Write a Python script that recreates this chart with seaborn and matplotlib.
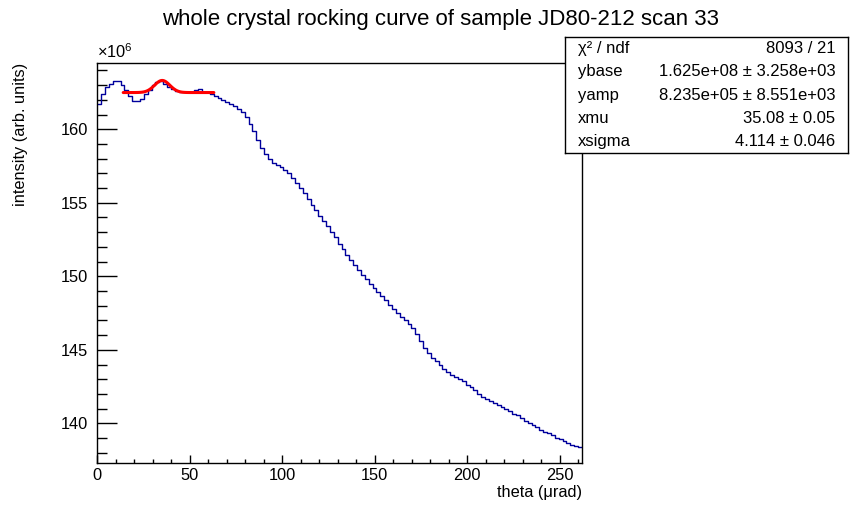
import numpy as np
import pandas as pd
import seaborn as sns
import matplotlib.pyplot as plt
from matplotlib.ticker import MultipleLocator

# histogram binning (theta in urad) and bin contents in units of 1e6
theta_lo = 0.0
theta_hi = 262.0
n_bins = 125
intensity = [
    161.72, 162.40, 162.85, 163.08, 163.26, 163.26, 163.01, 162.67, 162.26, 161.94,
    161.90, 162.06, 162.40, 162.67, 163.01, 163.19, 163.30, 163.08, 162.90, 162.72,
    162.60, 162.55, 162.55, 162.55, 162.57, 162.67, 162.72, 162.55, 162.51, 162.40,
    162.25, 162.10, 161.98, 161.88, 161.75, 161.58, 161.38, 161.15, 160.81, 160.35,
    159.86, 159.26, 158.70, 158.30, 157.97, 157.74, 157.55, 157.41, 157.21, 157.00,
    156.66, 156.32, 156.04, 155.64, 155.24, 154.83, 154.50, 154.12, 153.75, 153.41,
    153.02, 152.68, 152.17, 151.84, 151.46, 151.11, 150.77, 150.42, 150.09, 149.79,
    149.46, 149.17, 148.91, 148.64, 148.36, 148.02, 147.75, 147.48, 147.25, 147.00,
    146.73, 146.46, 146.05, 145.62, 145.10, 144.76, 144.44, 144.24, 143.94, 143.71,
    143.49, 143.29, 143.13, 142.99, 142.85, 142.62, 142.45, 142.26, 141.99, 141.81,
    141.67, 141.54, 141.41, 141.22, 141.09, 140.95, 140.81, 140.63, 140.54, 140.36,
    140.13, 140.04, 139.86, 139.73, 139.54, 139.41, 139.32, 139.18, 139.00, 138.91,
    138.77, 138.64, 138.54, 138.45, 138.41,
]

# gaussian fit result (as printed in the stats box)
ybase = 1.625e8
yamp = 8.235e5
xmu = 35.08
xsigma = 4.114
fit_lo = 14.0
fit_hi = 63.0

stat_names = ['χ² / ndf', 'ybase', 'yamp', 'xmu', 'xsigma']
stat_values = ['8093 / 21', '1.625e+08 ± 3.258e+03', '8.235e+05 ± 8.551e+03',
               '35.08 ± 0.05', '4.114 ± 0.046']

sns.set_style('ticks', {'axes.edgecolor': 'black', 'xtick.color': 'black',
                        'ytick.color': 'black', 'text.color': 'black',
                        'axes.labelcolor': 'black'})
plt.rcParams['font.family'] = ['Liberation Sans', 'DejaVu Sans']
plt.rcParams['mathtext.fontset'] = 'custom'
plt.rcParams['mathtext.rm'] = 'Liberation Sans'

fig = plt.figure(figsize=(8.62, 5.16), dpi=100)
ax = fig.add_axes([97.3 / 862, 1 - 462.7 / 516, 484.7 / 862, 400 / 516])

bin_w = (theta_hi - theta_lo) / n_bins
centers = theta_lo + bin_w * (np.arange(n_bins) + 0.5)
df = pd.DataFrame({'theta': centers, 'intensity': intensity})
sns.histplot(data=df, x='theta', weights='intensity', bins=n_bins,
             binrange=(theta_lo, theta_hi), element='step', fill=False,
             color='#00009c', linewidth=1.0, ax=ax)

fit_x = np.linspace(fit_lo, fit_hi, 100)
fit_y = (ybase + yamp * np.exp(-0.5 * ((fit_x - xmu) / xsigma) ** 2)) / 1e6
sns.lineplot(x=fit_x, y=fit_y, color='red', linewidth=2.2, ax=ax)

ax.set_xlim(theta_lo, theta_hi)
ax.set_ylim(137.32, 164.53)
ax.xaxis.set_major_locator(MultipleLocator(50))
ax.xaxis.set_minor_locator(MultipleLocator(10))
ax.yaxis.set_major_locator(MultipleLocator(5))
ax.yaxis.set_minor_locator(MultipleLocator(1))
ax.tick_params(axis='x', which='major', direction='in', length=5.8, width=1, pad=4, labelsize=11.8)
ax.tick_params(axis='x', which='minor', direction='in', length=2.9, width=1)
ax.tick_params(axis='y', which='major', direction='in', length=14.4, width=1, pad=6.5, labelsize=11.8)
ax.tick_params(axis='y', which='minor', direction='in', length=7.2, width=1)
for s in ax.spines.values():
    s.set_linewidth(1.0)

ax.set_xlabel('theta (μrad)', fontsize=11.8, loc='right')
ax.xaxis.set_label_coords(1.0, -0.056)
ax.set_ylabel('intensity (arb. units)', fontsize=11.8, loc='top')
ax.yaxis.set_label_coords(-0.144, 1.0)
ax.text(0.0, 1.004, r'$\times$10$^{6}$', transform=ax.transAxes, ha='left', va='bottom', fontsize=11.8)

fig.text(0.511, 1 - 9 / 516, 'whole crystal rocking curve of sample JD80-212 scan 33',
         ha='center', va='top', fontsize=16)

# stats box
box = fig.add_axes([565 / 862, 1 - 153 / 516, 283 / 862, 116 / 516])
box.set_xticks([])
box.set_yticks([])
box.set_facecolor('white')
for s in box.spines.values():
    s.set_linewidth(1.0)
    s.set_color('black')
rows = [0.9, 0.7, 0.5, 0.3, 0.1]
for yy, name, val in zip(rows, stat_names, stat_values):
    box.text(0.046, yy, name, ha='left', va='center', fontsize=12, transform=box.transAxes)
    box.text(0.955, yy, val, ha='right', va='center', fontsize=12, transform=box.transAxes)

fig.savefig('out.png', dpi=100)
